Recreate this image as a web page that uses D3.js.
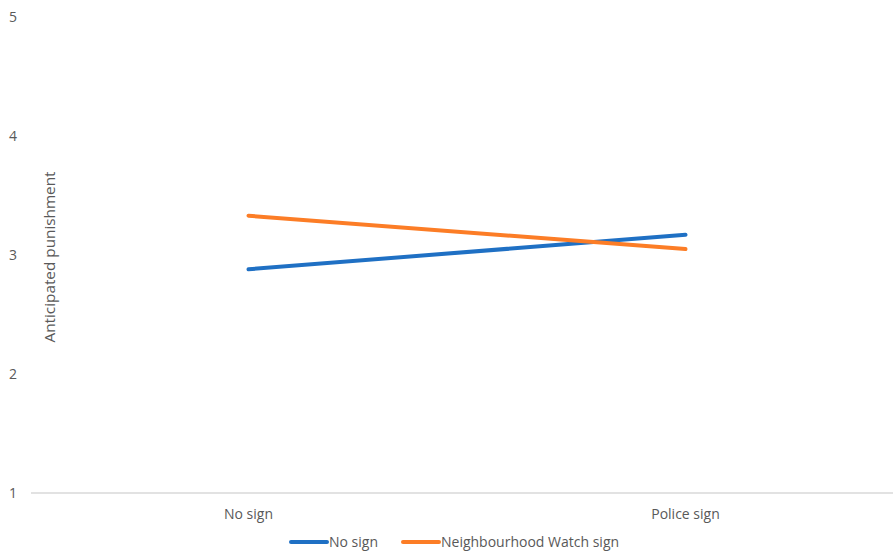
<!DOCTYPE html>
<html>
<head>
<meta charset="utf-8">
<script src="https://cdn.jsdelivr.net/npm/d3@7"></script>
<style>
    body { margin: 0; background: #fff; }
    text { font-family: "Open Sans", sans-serif; fill: #595959; }
</style>
</head>
<body>
<div id="chart"></div>
<script>
// data
var categories = ["No sign", "Police sign"];
var seriesNames = ["No sign", "Neighbourhood Watch sign"];
var noSignValues = [2.88, 3.17];
var watchValues = [3.33, 3.05];
var yTicks = [1, 2, 3, 4, 5];
var colors = ["#1f70c4", "#fc7d26"];

var width = 894, height = 552;

var svg = d3.select("#chart").append("svg")
    .attr("width", width)
    .attr("height", height);

var x = d3.scaleBand().domain(categories).range([30, 904]);
var y = d3.scaleLinear().domain([1, 5]).range([493, 17]);

// bottom axis line
svg.append("line")
    .attr("x1", 31).attr("x2", 893)
    .attr("y1", y(1)).attr("y2", y(1))
    .attr("stroke", "#d9d9d9")
    .attr("stroke-width", 1.3);

// y tick labels
svg.selectAll(".ytick")
    .data(yTicks)
    .enter().append("text")
    .attr("class", "ytick")
    .attr("x", 17)
    .attr("y", function (d) { return y(d); })
    .attr("dy", "0.35em")
    .attr("text-anchor", "end")
    .style("font-size", "14px")
    .text(function (d) { return d; });

// category labels
svg.selectAll(".xtick")
    .data(categories)
    .enter().append("text")
    .attr("class", "xtick")
    .attr("x", function (d) { return x(d) + x.bandwidth() / 2; })
    .attr("y", 519)
    .attr("text-anchor", "middle")
    .style("font-size", "14px")
    .text(function (d) { return d; });

// y axis title
svg.append("text")
    .attr("transform", "translate(55,257) rotate(-90)")
    .attr("text-anchor", "middle")
    .style("font-size", "15.3px")
    .text("Anticipated punishment");

var series = [noSignValues, watchValues];
var line = d3.line()
    .x(function (d, i) { return x(categories[i]) + x.bandwidth() / 2; })
    .y(function (d) { return y(d); });

svg.selectAll(".series")
    .data(series)
    .enter().append("path")
    .attr("class", "series")
    .attr("d", line)
    .attr("fill", "none")
    .attr("stroke", function (d, i) { return colors[i]; })
    .attr("stroke-width", 4)
    .attr("stroke-linecap", "round");

// legend
var legendX = [291, 403];
var lg = svg.selectAll(".legend")
    .data(seriesNames)
    .enter().append("g")
    .attr("class", "legend")
    .attr("transform", function (d, i) { return "translate(" + legendX[i] + ",542)"; });

lg.append("line")
    .attr("x1", 0).attr("x2", 36)
    .attr("stroke", function (d, i) { return colors[i]; })
    .attr("stroke-width", 4)
    .attr("stroke-linecap", "round");

lg.append("text")
    .attr("x", 38)
    .attr("dy", "0.35em")
    .style("font-size", "14px")
    .text(function (d) { return d; });
</script>
</body>
</html>
